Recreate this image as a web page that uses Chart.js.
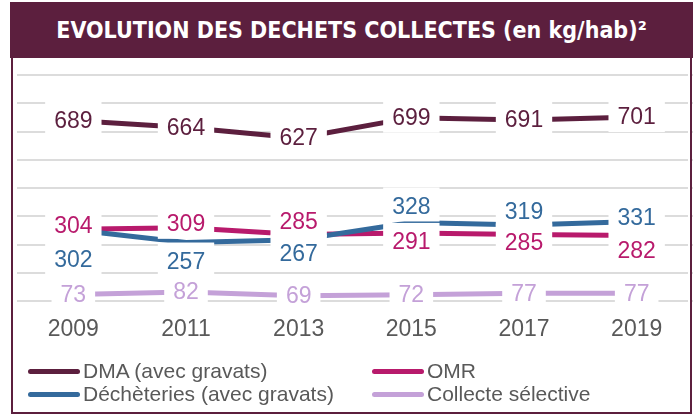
<!DOCTYPE html>
<html lang="fr">
<head>
<meta charset="utf-8">
<title>Evolution des déchets collectés</title>
<script src="https://cdn.jsdelivr.net/npm/chart.js@4/dist/chart.umd.min.js"></script>
<style>
    html, body { margin: 0; padding: 0; background: #fff; }
    #page { position: relative; width: 693px; height: 416px; overflow: hidden; font-family: "Liberation Sans", Arial, sans-serif; }
    #chart { position: absolute; left: 0; top: 0; }
    #banner {
        position: absolute; left: 10px; top: 2px; width: 683px; height: 56px;
        background: #5c1f3e; color: #fff; display: flex; align-items: center; justify-content: center;
        font-family: "Liberation Sans Narrow", "DejaVu Sans Condensed", "Liberation Sans", sans-serif;
        font-weight: bold; font-size: 23px; letter-spacing: 0;
    }
    #frame {
        position: absolute; left: 11px; top: 56px; width: 677px; height: 356px;
        border: 2px solid #5c1f3e; border-top: none;
    }
    #mask { position: absolute; left: 688px; top: 60px; width: 3px; height: 300px; background: #fff; }
    #legend { position: absolute; left: 0; top: 0; width: 693px; height: 416px; pointer-events: none; }
    .item { position: absolute; display: flex; align-items: center; color: #595959; font-size: 21px; white-space: nowrap; }
    .swatch { width: 52px; height: 5px; border-radius: 3px; margin-right: 3px; }
</style>
</head>
<body>
<div id="page">
    <canvas id="chart" width="693" height="416"></canvas>
    <div id="mask"></div>
    <div id="frame"></div>
    <div id="banner">EVOLUTION DES DECHETS COLLECTES (en kg/hab)²</div>
    <div id="legend"></div>
</div>
<script>
// Valeurs (kg/hab)
const years       = ["2009", "2011", "2013", "2015", "2017", "2019"];
const dma         = [689, 664, 627, 699, 691, 701];
const omr         = [304, 309, 285, 291, 285, 282];
const decheteries = [302, 257, 267, 328, 319, 331];
const collecte    = [73, 82, 69, 72, 77, 77];

// Décalage vertical des étiquettes (px), comme placées à la main dans l'original
const shiftCentre = [0, 0, 0, 0, 0, 0];
const shiftOmr    = [-4, -4, -13, 9, 8, 15];
const shiftDech   = [30, 19, 14, -16, -13, -4];

const LABEL_FONT = '23px "Liberation Sans", Arial, sans-serif';

/**
 * Dessine les valeurs sur fond blanc, par-dessus toutes les courbes.
 */
const valueLabels = {
    id: "valueLabels",
    afterDatasetsDraw(chart)
    {
        const ctx = chart.ctx;
        ctx.save();
        ctx.font         = LABEL_FONT;
        ctx.textAlign    = "center";
        ctx.textBaseline = "middle";

        chart.data.datasets.forEach((ds, i) => {
            chart.getDatasetMeta(i).data.forEach((pt, j) => {
                const text = String(ds.data[j]);
                const x    = pt.x;
                const y    = pt.y + ds.labelShift[j];
                const w    = ctx.measureText(text).width + 18;

                ctx.fillStyle = "#fff";
                ctx.fillRect(x - w / 2, y - 19, w, 34);
                ctx.fillStyle = ds.borderColor;
                ctx.fillText(text, x, y + 1);
            });
        });

        ctx.restore();
    }
};

function serie(label, data, color, order, shift)
{
    return {
        label,
        data,
        borderColor: color,
        backgroundColor: color,
        borderWidth: 5,
        pointRadius: 0,
        tension: 0,
        borderJoinStyle: "round",
        order,
        labelShift: shift,
    };
}

const chart = new Chart(document.getElementById("chart"), {
    type: "line",
    data: {
        labels: years,
        datasets: [
            serie("DMA (avec gravats)", dma, "#5c1f3e", 3, shiftCentre),
            serie("OMR", omr, "#b81a6c", 2, shiftOmr),
            serie("Déchèteries (avec gravats)", decheteries, "#346a9c", 1, shiftDech),
            serie("Collecte sélective", collecte, "#c4a1d8", 0, shiftCentre),
        ],
    },
    options: {
        responsive: false,
        animation: false,
        devicePixelRatio: 1,
        layout: { padding: { left: 17, right: 0, top: 75, bottom: 75 } },
        plugins: {
            legend: { display: false },
            tooltip: { enabled: false },
        },
        scales: {
            x: {
                offset: true,
                grid: { display: false, drawTicks: false },
                border: { display: false },
                ticks: {
                    color: "#595959",
                    font: { family: '"Liberation Sans", Arial, sans-serif', size: 23 },
                    padding: 15,
                    maxRotation: 0,
                },
                afterFit(scale) { scale.height = 40; },
            },
            y: {
                min: 50,
                max: 850,
                ticks: { display: false, stepSize: 100 },
                grid: { color: "#dcdcdc", lineWidth: 2, drawTicks: false },
                border: { display: false },
                afterFit(scale) { scale.width = 0; },
            },
        },
    },
    plugins: [valueLabels],
});

// Légende sur deux colonnes
const legend  = document.getElementById("legend");
const columns = [28, 372];
const rows    = [371, 394];

chart.data.datasets.forEach((ds, i) => {
    const item = document.createElement("div");
    item.className  = "item";
    item.style.left = columns[i % 2] + "px";
    item.style.top  = (rows[Math.floor(i / 2)] - 12) + "px";
    item.style.height = "24px";

    const swatch = document.createElement("span");
    swatch.className = "swatch";
    swatch.style.background = ds.borderColor;

    item.appendChild(swatch);
    item.appendChild(document.createTextNode(ds.label));
    legend.appendChild(item);
});
</script>
</body>
</html>
